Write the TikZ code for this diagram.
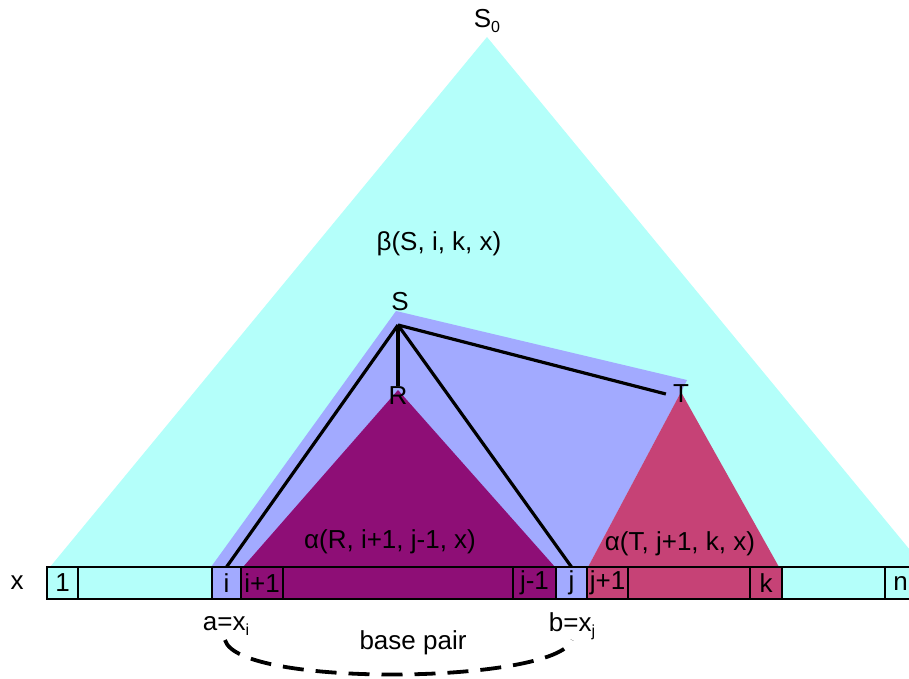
\documentclass[tikz,border=0pt]{standalone}
\usepackage{fontspec}
\setmainfont{Liberation Sans}
\usepackage{tikz}
\usetikzlibrary{positioning,calc}

\newcommand{\lowidx}[1]{\raisebox{-5pt}{\fontsize{16}{16}\selectfont #1}}

\begin{document}
\begin{tikzpicture}[
  x=1pt,y=-1pt,
  font=\fontsize{26}{31}\selectfont,
  cell/.style={draw=black,line width=2.8pt,fill=#1,minimum height=32pt,inner sep=0pt,outer sep=0pt,anchor=west},
  link/.style={line width=3.2pt,draw=black},
  lbl/.style={inner sep=1pt},
  pairarc/.style={line width=3.8pt,draw=black,dash pattern=on 21pt off 12pt},
]
\definecolor{skyFill}{HTML}{B4FFFA}
\definecolor{lilacFill}{HTML}{A2AAFF}
\definecolor{plumFill}{HTML}{8E0E76}
\definecolor{roseFill}{HTML}{C64276}

\useasboundingbox (0,0) rectangle (909,679);
\clip (0,0) rectangle (909,679);

\fill[skyFill] (487,37) -- (50,567) -- (924,567) -- cycle;
\fill[lilacFill] (211,567) -- (396,311) -- (687,380) -- (681,392) -- (588,567) -- cycle;
\fill[plumFill] (398,390) -- (243,567) -- (555,567) -- cycle;
\fill[roseFill] (681,392) -- (588,567) -- (779,567) -- cycle;

\node[cell=skyFill,minimum width=31pt] (c1) at (47,583) {1};
\node[cell=skyFill,minimum width=134pt] (gapL) at (78,583) {};
\node[cell=lilacFill,minimum width=29pt] (ci) at (212,583) {i};
\node[cell=plumFill,minimum width=42pt] (cip) at (241,583) {i+1};
\node[cell=plumFill,minimum width=230pt] (gapR) at (283,583) {};
\node[cell=plumFill,minimum width=43pt] (cjm) at (513,583) {j-1};
\node[cell=lilacFill,minimum width=31pt] (cj) at (556,583) {j};
\node[cell=roseFill,minimum width=41pt] (cjp) at (587,583) {j+1};
\node[cell=roseFill,minimum width=122pt] (gapT) at (628,583) {};
\node[cell=roseFill,minimum width=32pt] (ck) at (750,583) {k};
\node[cell=skyFill,minimum width=103pt] (gapK) at (782,583) {};
\node[cell=skyFill,minimum width=31pt] (cn) at (885,583) {n};
\node[lbl] (xlab) at (17,583) {x};

\node[lbl] (S0) at (487,21) {S\lowidx{0}};
\node[lbl] (beta) at (439,244) {β(S, i, k, x)};
\node[lbl] (S) at (400,302) {S};
\node[lbl] (R) at (398,396) {R};
\node[lbl] (T) at (681,394) {T};
\node[lbl] (alphaR) at (390,542) {α(R, i+1, j-1, x)};
\node[lbl] (alphaT) at (680,544) {α(T, j+1, k, x)};

\coordinate (sroot) at (398,325);
\draw[link] (sroot) -- (ci.north);
\draw[link] (sroot) -- (cj.north);
\draw[link] (sroot) -- (R.north);
\draw[link] (sroot) -- ([xshift=-6pt]T.west);

\node[lbl] (alab) at (226,626) {a=x\lowidx{i}};
\node[lbl] (blab) at (572,626) {b=x\lowidx{j}};
\node[lbl] (bp) at (413,643) {base pair};
\draw[pairarc] (225,640) .. controls (238,688) and (556,684) .. (572,640);
\end{tikzpicture}
\end{document}
